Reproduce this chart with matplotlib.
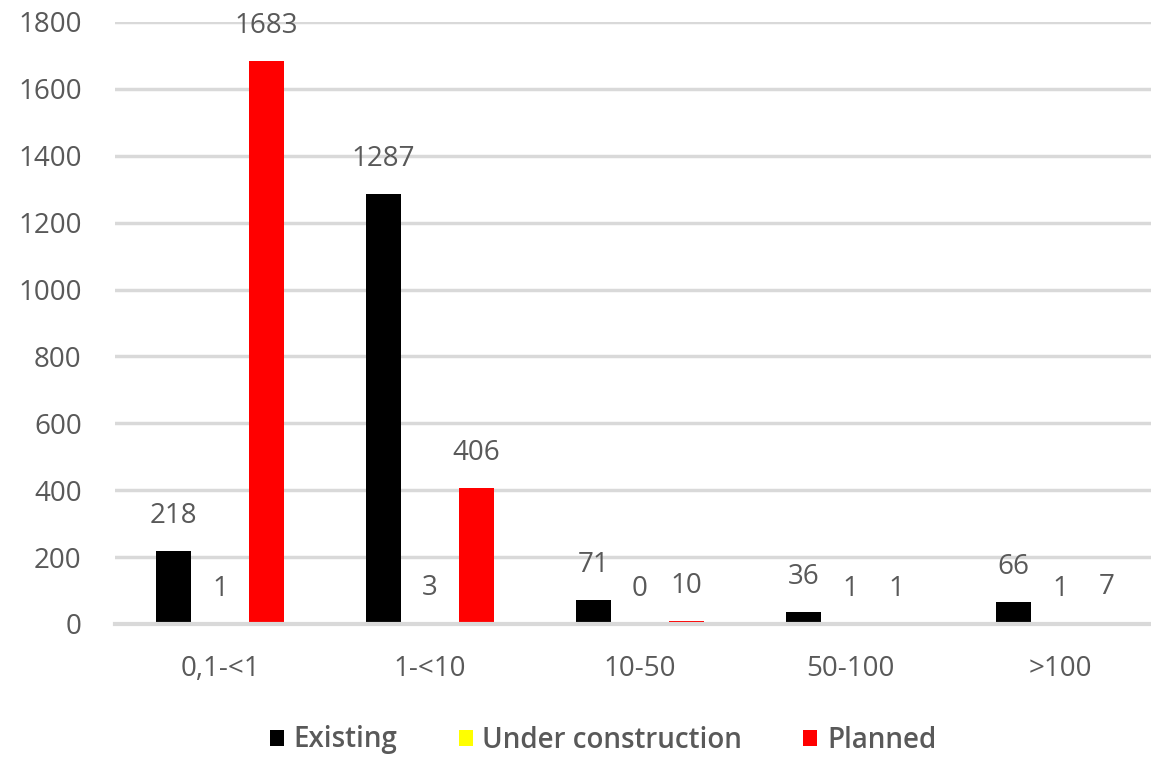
import matplotlib
matplotlib.use("Agg")
import matplotlib.pyplot as plt
import numpy as np

categories = ["0,1-<1", "1-<10", "10-50", "50-100", ">100"]
existing = [218, 1287, 71, 36, 66]
under_construction = [1, 3, 0, 1, 1]
planned = [1683, 406, 10, 1, 7]
series_names = ["Existing", "Under construction", "Planned"]
colors = ["#000000", "#FFFF00", "#FF0000"]
yticks = [0, 200, 400, 600, 800, 1000, 1200, 1400, 1600, 1800]

plt.rcParams["font.family"] = ["Open Sans", "DejaVu Sans"]
text_color = "#595959"
grid_color = "#D9D9D9"
fs = 20

W, H = 1151, 759
fig = plt.figure(figsize=(W / 100, H / 100), dpi=100)
ax_left, ax_right = 115, W
ax_top, ax_bottom = 22, 624
ax = fig.add_axes([ax_left / W, 1 - ax_bottom / H,
                   (ax_right - ax_left) / W, (ax_bottom - ax_top) / H])

x = np.arange(len(categories))
width = 0.167
step = 0.222
series = [existing, under_construction, planned]
for i, (vals, col, name) in enumerate(zip(series, colors, series_names)):
    pos = x + (i - 1) * step
    ax.bar(pos, vals, width, color=col, label=name, zorder=3)
    for p, v in zip(pos, vals):
        ax.annotate(str(v), (p, v), xytext=(0, 15), textcoords="offset points",
                    ha="center", va="bottom", fontsize=fs, color=text_color)

ax.set_ylim(0, 1800)
# categories are 210 px apart; the right end of the axis runs off the figure edge
ax.set_xlim(-0.5, -0.5 + (ax_right - ax_left) / 210)
ax.set_yticks(yticks)
ax.set_xticks(x)
ax.set_xticklabels(categories)
ax.yaxis.grid(True, color=grid_color, linewidth=2.5, zorder=0)
ax.set_axisbelow(True)
for s in ["top", "right", "left"]:
    ax.spines[s].set_visible(False)
ax.spines["bottom"].set_color(grid_color)
ax.spines["bottom"].set_linewidth(3)
ax.spines["bottom"].set_zorder(4)
ax.tick_params(axis="both", length=0, labelsize=fs, labelcolor=text_color)
ax.tick_params(axis="y", pad=24)
ax.tick_params(axis="x", pad=22)

fig.legend(loc="center", bbox_to_anchor=(0.524, 19 / H), ncol=3, frameon=False,
           prop={"size": fs, "weight": "semibold"},
           handlelength=0.5, handleheight=0.5, handletextpad=0.35,
           columnspacing=2.2, labelcolor=text_color)

fig.savefig("out.png", dpi=100)
